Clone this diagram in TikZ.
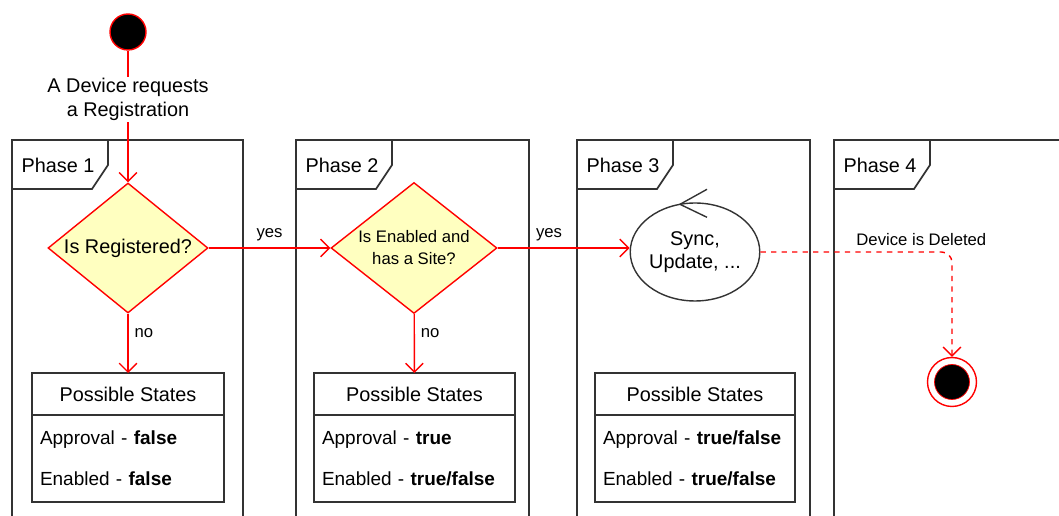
\documentclass[tikz,border=0pt]{standalone}
\usepackage{fontspec}
\setmainfont{Liberation Sans}
\usetikzlibrary{arrows.meta,positioning,calc,shapes.geometric}
\definecolor{flowred}{RGB}{255,0,0}
\definecolor{decision}{RGB}{255,255,192}
\definecolor{framegray}{RGB}{51,51,51}

\begin{document}
\begin{tikzpicture}[x=0.02cm, y=-0.02cm,
    >={Straight Barb[length=5pt,width=10pt]},
    big text/.style={font=\fontsize{11.3}{13.5}\selectfont},
    small text/.style={font=\fontsize{9.5}{12.5}\selectfont},
    flow/.style={draw=flowred, line width=0.8pt, ->},
    frameline/.style={draw=framegray, line width=1pt},
    startdot/.style={circle, draw=flowred, line width=0.8pt, fill=black, minimum size=0.72cm, inner sep=0pt},
    finaldot/.style={circle, draw=flowred, line width=0.8pt, fill=white, minimum size=0.98cm, inner sep=0pt,
        path picture={\filldraw[fill=black, draw=flowred, line width=0.4pt] (path picture bounding box.center) circle (0.35cm);}},
    choice/.style={diamond, draw=flowred, line width=0.8pt, fill=decision, inner sep=0pt, align=center},
    activity/.style={ellipse, draw=framegray, line width=0.8pt, minimum width=2.28cm, minimum height=1.96cm, inner sep=0pt, align=center, big text},
    statehead/.style={draw=framegray, line width=0.8pt, outer sep=0pt, minimum height=0.84cm, big text},
    statebody/.style={draw=framegray, line width=0.8pt, outer sep=0pt, minimum height=1.74cm, inner xsep=0.16cm, align=left,
        font=\fontsize{10.8}{23.2}\selectfont}
]

    \useasboundingbox (0,0) rectangle (1059,516);
    \clip (0,0) rectangle (1059,516);

    % Phase frames with tabs
    \foreach \l/\r/\n in {12/243/1, 296/529/2, 577/810/3, 834/1080/4} {
        \draw[frameline] (\l,530) -- (\l,140) -- (\r,140) -- (\r,530);
        \draw[frameline] (\l+96,140) -- (\l+96,165) -- (\l+80,189) -- (\l,189);
        \node[big text] (phase\n) at (\l+46,165) {Phase \n};
    }

    % Start
    \node[startdot] (start) at (128,32) {};

    % Decisions
    \node[choice, big text, aspect=1.23, minimum width=3.2cm, minimum height=2.6cm] (registered) at (128,248) {Is Registered?};
    \node[choice, small text, aspect=1.27, minimum width=3.32cm, minimum height=2.62cm] (enabled) at (414,248) {Is Enabled and\\has a Site?};

    % Activity and end
    \node[activity] (sync) at (695,252) {Sync,\\Update, ...};
    \draw[frameline, line width=0.8pt] ($(sync.north)+(12,-13)$) -- ($(sync.north)+(-15,2)$) -- ($(sync.north)+(12,15)$);
    \node[finaldot] (finish) at (952,382) {};

    % Possible states
    \node[statehead, minimum width=3.84cm] (states1) at (128,394) {Possible States};
    \node[statebody, text width=3.52cm, below=0pt of states1] (states1body)
        {Approval - \textbf{false}\\Enabled - \textbf{false}};
    \node[statehead, minimum width=4.02cm] (states2) at (414.5,394) {Possible States};
    \node[statebody, text width=3.7cm, below=0pt of states2] (states2body)
        {Approval - \textbf{true}\\Enabled - \textbf{true/false}};
    \node[statehead, minimum width=4.0cm] (states3) at (695,394) {Possible States};
    \node[statebody, text width=3.68cm, below=0pt of states3] (states3body)
        {Approval - \textbf{true/false}\\Enabled - \textbf{true/false}};

    % Transitions
    \draw[flow] (start) -- node[pos=0.37, fill=white, inner sep=1pt, align=center, big text] (request)
        {A Device requests\\a Registration} (registered);
    \draw[flow] (registered) -- node[above, small text] (yes1) {yes} (enabled);
    \draw[flow] (enabled.east) -- node[pos=0.39, above, small text] (yes2) {yes} (enabled.east -| sync.west);
    \draw[flow] (registered) -- node[pos=0.33, right, small text] (no1) {no} (states1);
    \draw[flow] (enabled) -- node[pos=0.33, right, small text] (no2) {no} (states2);
    \draw[flow, dashed, rounded corners=6pt] (sync.east) -| node[pos=0.42, above, small text] (deleted)
        {Device is Deleted} (finish);

\end{tikzpicture}
\end{document}
